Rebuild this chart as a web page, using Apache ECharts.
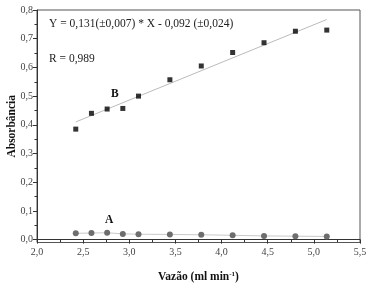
<!DOCTYPE html>
<html><head><meta charset="utf-8">
<script src="https://cdn.jsdelivr.net/npm/echarts@6/dist/echarts.min.js"></script>
<style>html,body{margin:0;padding:0;background:#fff}#c{width:370px;height:284px}</style>
</head><body><div id="c"></div>
<script>
const flowX = [2.42, 2.59, 2.76, 2.93, 3.10, 3.44, 3.78, 4.12, 4.46, 4.80, 5.14];
const absB = [0.385, 0.440, 0.455, 0.457, 0.500, 0.557, 0.605, 0.652, 0.686, 0.726, 0.730];
const absA = [0.022, 0.023, 0.024, 0.020, 0.019, 0.018, 0.017, 0.015, 0.013, 0.012, 0.011];
const fitX = [2.42, 5.14];
const fitY = [0.410, 0.767];
const xTicks = ['2,0','2,5','3,0','3,5','4,0','4,5','5,0','5,5'];
const yTickValues = [0, 0.1, 0.2, 0.3, 0.4, 0.5, 0.6, 0.7, 0.8];
const yTicks = ['0,0','0,1','0,2','0,3','0,4','0,5','0,6','0,7','0,8'];
const yMinorValues = [0.05, 0.15, 0.25, 0.35, 0.45, 0.55, 0.65, 0.75];
const eqText = 'Y = 0,131(\u00b10,007) * X - 0,092 (\u00b10,024)';
const rText = 'R = 0,989';

const F = 'Liberation Serif';
const chart = echarts.init(document.getElementById('c'), null, {renderer:'canvas'});
chart.setOption({
  animation:false,
  grid:{left:37, right:10, top:10, bottom:41.5, containLabel:false, outerBoundsMode:'none', show:true, borderColor:'#555', borderWidth:1},
  xAxis:{type:'value', min:2.0, max:5.5, interval:0.5,
    name:'{a|Vaz\u00e3o (ml min}{s|-1}{a|)}', nameLocation:'middle', nameGap:28, nameMoveOverlap:false,
    nameTextStyle:{rich:{a:{fontFamily:F, fontWeight:'bold', fontSize:11.5, color:'#111'}, s:{fontFamily:F, fontWeight:'bold', fontSize:7, color:'#111', verticalAlign:'top', padding:[0,0,6,0]}}},
    axisLine:{lineStyle:{color:'#333', width:1}},
    axisTick:{inside:false, length:4, lineStyle:{color:'#333'}},
    minorTick:{show:true, splitNumber:2, length:2.5, lineStyle:{color:'#333'}},
    splitLine:{show:false},
    axisLabel:{fontFamily:F, fontSize:10, color:'#444', margin:5,
      formatter:v=>xTicks[Math.round((v-2.0)/0.5)] }},
  yAxis:[
    {type:'value', min:-0.01, max:0.8,
    name:'Absorb\u00e2ncia', nameLocation:'middle', nameGap:19, nameMoveOverlap:false,
    nameTextStyle:{fontFamily:F, fontWeight:'bold', fontSize:11.5, color:'#111'},
    axisLine:{show:true, lineStyle:{color:'#333', width:1}},
    axisTick:{show:true, length:4, lineStyle:{color:'#333'}, customValues:yTickValues},
    splitLine:{show:false},
    axisLabel:{fontFamily:F, fontSize:10, color:'#444', margin:4,
      customValues:yTickValues,
      formatter:v=>yTicks[Math.round(v*10)] }},
    {type:'value', min:-0.01, max:0.8, position:'left', offset:0,
    axisLine:{show:false},
    axisTick:{show:true, length:2.5, lineStyle:{color:'#333'}, customValues:yMinorValues},
    axisLabel:{show:false, customValues:yMinorValues},
    splitLine:{show:false}}
  ],
  series:[
    {type:'line', data:fitX.map((x,i)=>[x,fitY[i]]), symbol:'none', lineStyle:{color:'#aaa', width:0.8}, z:1},
    {type:'scatter', data:flowX.map((x,i)=>[x,absB[i]]), symbol:'rect', symbolSize:5, itemStyle:{color:'#000'}, z:3},
    {type:'line', data:flowX.map((x,i)=>[x,absA[i]]), symbol:'circle', symbolSize:6, showAllSymbol:true,
      itemStyle:{color:'#6e6e6e'}, lineStyle:{color:'#bbb', width:0.8}, z:3}
  ],
  graphic:[
    {type:'text', left:49, top:18, style:{text:eqText, font:'11.5px "Liberation Serif"', fill:'#222'}},
    {type:'text', left:49, top:53, style:{text:rText, font:'11.5px "Liberation Serif"', fill:'#222'}},
    {type:'text', left:111, top:88, style:{text:'B', font:'bold 11.5px "Liberation Serif"', fill:'#111'}},
    {type:'text', left:105, top:214, style:{text:'A', font:'bold 11.5px "Liberation Serif"', fill:'#111'}}
  ]
});
</script></body></html>
